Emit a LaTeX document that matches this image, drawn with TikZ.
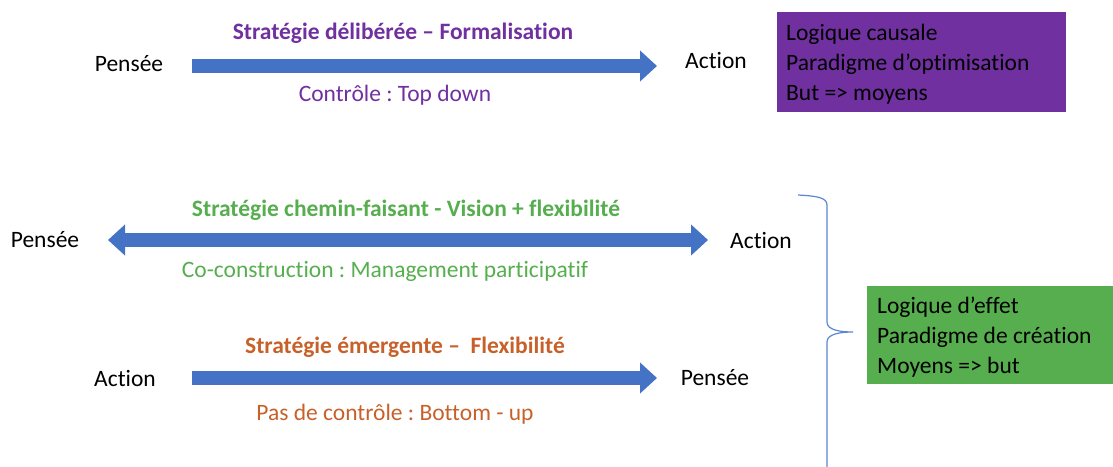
\documentclass[tikz,border=0pt]{standalone}
\usepackage{fontspec}
\setmainfont{Carlito}[Ligatures={NoCommon,TeX}]
\usetikzlibrary{arrows.meta}
\definecolor{arrblue}{HTML}{4472C4}
\definecolor{purp}{HTML}{7030A0}
\definecolor{grn}{HTML}{56AE4E}
\definecolor{orng}{HTML}{C8602A}
\definecolor{brc}{HTML}{5B86D0}
\begin{document}
\frenchspacing
\begin{tikzpicture}[x=1pt,y=-1pt,
  txt/.style={inner sep=0pt,font=\fontsize{23.5}{30}\selectfont},
  ttl/.style={txt,font=\fontsize{23.5}{30}\selectfont\bfseries},
  bigarrow/.style={draw=arrblue,line width=14pt,-{Triangle[length=17pt,width=30pt]}},
  dblarrow/.style={draw=arrblue,line width=14pt,{Triangle[length=17pt,width=30pt]}-{Triangle[length=17pt,width=30pt]}},
  boxfill/.style={anchor=north west,inner sep=0pt},
  boxtext/.style={txt,anchor=west,align=left}
]
\useasboundingbox (0,0) rectangle (1113,466);
% Row 1
\node[txt] (p1) at (129,64) {Pensée};
\node[txt] (a1) at (716,60) {Action};
\node[ttl,text=purp] (t1) at (403,33) {Stratégie délibérée – Formalisation};
\node[txt,text=purp] (s1) at (395,95) {Contrôle : Top down};
\coordinate (r1s) at (192,66);
\coordinate (r1e) at (657,66);
\draw[bigarrow] (r1s) -- (r1e);
\node[boxfill,fill=purp,minimum width=289pt,minimum height=100pt] (b1) at (777,12) {};
\node[boxtext] (b1t) at (786,64) {Logique causale\\Paradigme d’optimisation\\But => moyens};
% Row 2
\node[txt] (p2) at (45,240) {Pensée};
\node[txt] (a2) at (761,240) {Action};
\node[ttl,text=grn] (t2) at (406,210) {Stratégie chemin-faisant - Vision + flexibilité};
\node[txt,text=grn] (s2) at (385,271) {Co-construction : Management participatif};
\coordinate (r2s) at (108,240);
\coordinate (r2e) at (708,240);
\draw[dblarrow] (r2s) -- (r2e);
% Row 3
\node[txt] (a3) at (125,378) {Action};
\node[txt] (p3) at (715,378) {Pensée};
\node[ttl,text=orng] (t3) at (405,347) {Stratégie émergente –\ \ Flexibilité};
\node[txt,text=orng] (s3) at (395,414) {Pas de contrôle : Bottom - up};
\coordinate (r3s) at (192,378);
\coordinate (r3e) at (657,378);
\draw[bigarrow] (r3s) -- (r3e);
% Brace
\coordinate (bt) at (798,195);
\coordinate (bm) at (853,332);
\coordinate (bb) at (827,470);
\draw[brc,line width=1.2pt] (bt) .. controls (815,196) and (827,197) .. (827,205)
  -- (827,322) .. controls (827,330) and (840,332) .. (bm)
  .. controls (840,332) and (827,334) .. (827,342) -- (bb);
% Green box
\node[boxfill,fill=grn,minimum width=250pt,minimum height=98pt] (b2) at (867,286) {};
\node[boxtext] (b2t) at (877,337) {Logique d’effet\\Paradigme de création\\Moyens => but};
\end{tikzpicture}
\end{document}
